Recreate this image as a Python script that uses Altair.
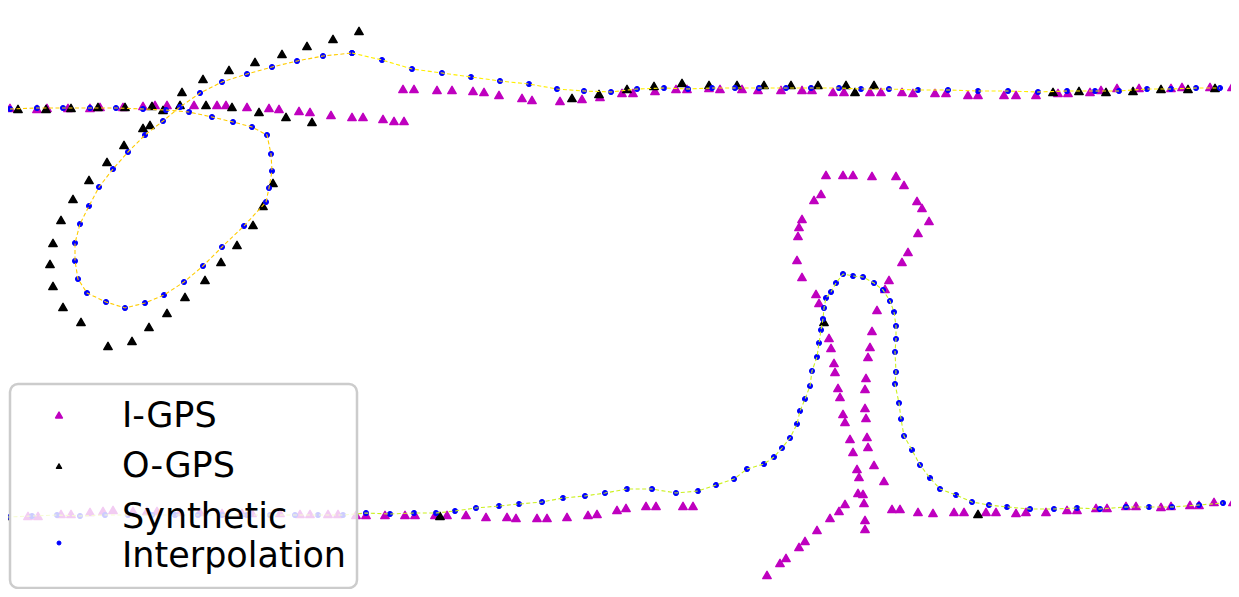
import altair as alt
import pandas as pd

# ---------------- data (image pixel units) ----------------
igps_x = [0, 10, 37, 47, 68, 90, 100, 123, 143, 155, 167, 194, 217, 226, 247, 269, 279, 299, 310, 331, 352, 363, 383, 394, 404,
          403, 414, 437, 452, 473, 484, 499, 522, 532, 560, 582, 600, 622, 633, 655, 676, 687, 709, 720, 742, 758, 781, 802, 812,
          833, 844, 870, 881, 902, 913, 935, 946, 968, 978, 1004, 1016, 1036, 1058, 1068, 1090, 1101, 1117, 1139, 1171, 1182, 1210, 1232,
          826, 843, 853, 872, 896, 904, 917, 922, 929, 918, 908, 902, 889, 885, 877, 872, 870, 868,
          821, 814, 802, 799, 798, 797, 802, 816, 819, 829, 831,
          834, 835, 838, 840, 843, 845, 850, 853, 857, 859, 858, 863, 864, 865, 865,
          845, 839, 830, 817, 805, 799, 786, 780, 767,
          866, 865, 865, 866, 867, 868, 874, 884,
          892, 900, 918, 933, 954, 964, 986, 996, 1016, 1026, 1046, 1067, 1077, 1096, 1107, 1126, 1136, 1161, 1171, 1190, 1199, 1214, 1233,
          356, 366, 385, 405, 415, 435, 447, 466, 486, 507, 516, 537, 547, 567, 588, 597, 617, 626, 646, 656, 683, 693,
          2, 28, 38, 61, 71, 90, 103, 113, 133, 147, 157, 180, 200, 222, 242, 252, 280, 300, 310, 328, 338]
igps_y = [110, 108, 109, 108, 108, 108, 107, 107, 106, 105, 105, 105, 105, 105, 107, 108, 109, 111, 112, 115, 117, 117, 119, 121, 121,
          89, 89, 90, 90, 91, 92, 95, 98, 100, 101, 99, 97, 93, 93, 91, 89, 89, 88, 89, 89, 90, 90, 90, 90,
          92, 92, 92, 92, 92, 93, 93, 93, 95, 95, 95, 95, 95, 93, 93, 92, 90, 88, 88, 88, 87, 87, 87,
          175, 175, 175, 176, 176, 185, 201, 208, 221, 233, 252, 262, 280, 289, 310, 331, 347, 357,
          194, 200, 219, 227, 236, 260, 277, 294, 303, 338, 348,
          363, 372, 388, 397, 414, 422, 439, 452, 469, 477, 493, 494, 503, 520, 529,
          504, 511, 518, 530, 541, 547, 558, 563, 575,
          378, 389, 408, 418, 437, 447, 465, 481,
          509, 509, 512, 513, 512, 512, 512, 512, 513, 512, 512, 510, 510, 508, 508, 506, 506, 507, 506, 505, 505, 502, 502,
          515, 515, 515, 515, 515, 515, 515, 515, 517, 517, 518, 518, 518, 517, 515, 514, 510, 508, 506, 506, 506, 506,
          518, 516, 516, 514, 514, 512, 511, 510, 511, 511, 511, 512, 512, 513, 513, 513, 513, 514, 514, 514, 514]

ogps_x = [18, 46, 71, 98, 125, 152, 163, 180, 206, 232, 259, 286, 312,
          182, 203, 229, 255, 282, 307, 333, 359,
          143, 150, 124, 107, 89, 73, 61, 53, 50, 53, 63, 81, 108, 132, 149, 167, 185, 205, 221, 237, 253, 263, 273,
          572, 599, 627, 654, 682, 709, 737, 764, 791, 818, 846, 855, 874,
          1053, 1079, 1106, 1133, 1161, 1188, 1215,
          6, 440, 824, 978]
ogps_y = [109, 109, 108, 107, 107, 106, 110, 105, 105, 107, 112, 117, 122,
          92, 79, 70, 62, 54, 46, 39, 31,
          128, 125, 145, 162, 180, 199, 220, 243, 264, 286, 307, 322, 346, 341, 327, 313, 297, 280, 262, 245, 225, 206, 183,
          98, 94, 89, 86, 83, 85, 85, 85, 85, 85, 85, 92, 85,
          92, 91, 92, 91, 89, 89, 88,
          516, 516, 322, 514]

# synthetic interpolation, in travel order (three stretches of the track)
loop_x = [10, 37, 63, 90, 116, 143, 166, 189, 212, 233, 252, 267, 271, 272, 269, 266, 244, 222, 203, 184, 164, 145, 125, 106,
          87, 78, 75, 75, 80, 89, 99, 113, 128, 145, 163, 180, 200, 222, 247, 272, 297, 323, 352]
loop_y = [109, 108, 108, 108, 108, 109, 110, 112, 117, 122, 127, 135, 154, 171, 188, 202, 226, 247, 266, 282, 295, 303, 308, 302,
          293, 279, 261, 243, 224, 206, 187, 169, 152, 135, 121, 107, 93, 82, 74, 67, 61, 56, 53]
upper_x = [352, 382, 412, 442, 471, 500, 529, 557, 584, 611, 637, 664, 688, 712, 735, 759, 786, 811, 839, 861, 889, 918, 948,
           978, 1008, 1038, 1067, 1095, 1119, 1147, 1171, 1196, 1220]
upper_y = [53, 60, 69, 73, 77, 81, 84, 89, 91, 92, 89, 88, 89, 88, 88, 88, 88, 88, 88, 89, 89, 90, 90,
           91, 91, 92, 91, 91, 91, 89, 89, 88, 88]
lower_x = [7, 32, 57, 80, 105, 128, 152, 175, 198, 222, 247, 270, 295, 318, 343, 366, 390, 414, 436, 455, 476, 499, 519, 542,
           563, 585, 605, 627, 652, 676, 698, 716, 734, 747, 764, 774, 782, 790, 797, 800, 805, 810, 812, 817, 819, 821, 823,
           824, 826, 831, 836, 843, 853, 863, 874, 883, 890, 894, 896, 896, 895, 896, 895, 899, 901, 904, 912, 920, 930, 940,
           956, 972, 989, 1007, 1030, 1054, 1077, 1100, 1126, 1149, 1172, 1199, 1223]
lower_y = [517, 516, 515, 516, 515, 515, 515, 515, 515, 515, 515, 515, 515, 515, 515, 513, 514, 513, 513, 511, 508, 506, 504, 502,
           498, 496, 493, 489, 489, 493, 491, 485, 479, 469, 464, 457, 448, 438, 424, 411, 399, 386, 371, 357, 343, 330, 319,
           308, 298, 292, 283, 274, 276, 277, 283, 290, 301, 312, 326, 339, 352, 372, 384, 403, 419, 436, 450, 465, 478, 489,
           495, 502, 505, 507, 509, 509, 508, 509, 507, 507, 507, 505, 503]

legend_labels = ["I-GPS", "O-GPS", "Synthetic\nInterpolation"]

# ---------------- frames ----------------
igps = pd.DataFrame({"x": igps_x, "y": igps_y})
ogps = pd.DataFrame({"x": ogps_x, "y": ogps_y})
loop = pd.DataFrame({"x": loop_x, "y": loop_y, "i": range(len(loop_x))})
upper = pd.DataFrame({"x": upper_x, "y": upper_y, "i": range(len(upper_x))})
lower = pd.DataFrame({"x": lower_x, "y": lower_y, "i": range(len(lower_x))})
synth = pd.concat([loop, upper, lower], ignore_index=True)

W, H = 1223, 581
xs = alt.Scale(domain=[8, 1231])
ys = alt.Scale(domain=[8, 589], reverse=True)
X = alt.X("x:Q", scale=xs, axis=None)
Y = alt.Y("y:Q", scale=ys, axis=None)

MAG = "#bf00bf"
BLUE = "#0000ff"

p_igps = alt.Chart(igps).mark_point(shape="triangle-up", filled=True, size=70, color=MAG, stroke=MAG,
                                    strokeWidth=1.5, strokeJoin="round", opacity=1).encode(x=X, y=Y)
p_ogps = alt.Chart(ogps).mark_point(shape="triangle-up", filled=True, size=70, color="black", stroke="black",
                                    strokeWidth=1.5, strokeJoin="round", opacity=1).encode(x=X, y=Y)
p_syn = alt.Chart(synth).mark_point(shape="circle", filled=True, size=26, color=BLUE, stroke=BLUE,
                                    strokeWidth=1, opacity=1).encode(x=X, y=Y)


def track(df, col):
    return alt.Chart(df).mark_line(strokeDash=[4, 2.5], strokeWidth=1.1, color=col).encode(
        x=X, y=Y, order="i:Q")


l_loop = track(loop, "#ffcc00")
l_upper = track(upper, "#ffee00")
l_lower = track(lower, "#ccf020")

# ---------------- legend (drawn as a framed box) ----------------
one = pd.DataFrame({"k": [0]})
box = alt.Chart(one).mark_rect(cornerRadius=8, fill="white", fillOpacity=0.8, stroke="#cccccc", strokeWidth=2.5).encode(
    x=alt.value(2), x2=alt.value(349), y=alt.value(376), y2=alt.value(580))

leg_sym1 = alt.Chart(one).mark_point(shape="triangle-up", filled=True, size=45, color=MAG, stroke=MAG,
                                     strokeWidth=1.5, strokeJoin="round", opacity=1).encode(
    x=alt.value(51), y=alt.value(407))
leg_sym2 = alt.Chart(one).mark_point(shape="triangle-up", filled=True, size=28, color="black", stroke="black",
                                     strokeWidth=1.2, strokeJoin="round", opacity=1).encode(
    x=alt.value(51), y=alt.value(458))
leg_sym3 = alt.Chart(one).mark_point(shape="circle", filled=True, size=16, color=BLUE, stroke=BLUE,
                                     strokeWidth=1, opacity=1).encode(
    x=alt.value(51), y=alt.value(535))


def leg_text(label, ypos):
    return alt.Chart(pd.DataFrame({"t": [label]})).mark_text(
        align="left", baseline="alphabetic", fontSize=35, font="DejaVu Sans", color="black",
        lineBreak="\n", lineHeight=39).encode(x=alt.value(114), y=alt.value(ypos), text="t:N")


t1 = leg_text(legend_labels[0], 419)
t2 = leg_text(legend_labels[1], 469)
t3 = leg_text(legend_labels[2], 520)

chart = alt.layer(
    p_igps, p_ogps, p_syn, l_loop, l_upper, l_lower,
    box, leg_sym1, leg_sym2, leg_sym3, t1, t2, t3
).properties(
    width=W, height=H, padding=0, background="white",
    autosize=alt.AutoSizeParams(type="none")
).configure_view(stroke=None)

chart.save("out.html", embed_options={"renderer": "svg", "actions": False})
